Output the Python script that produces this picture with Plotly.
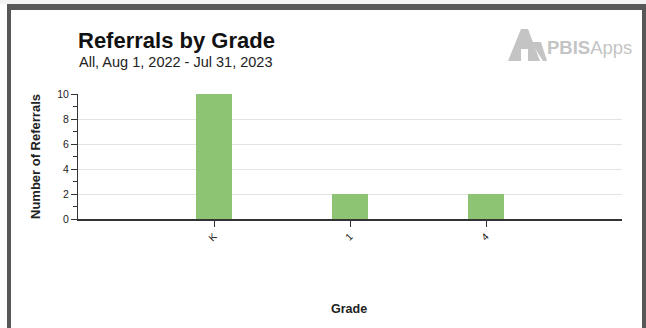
import plotly.graph_objects as go

grades = ["K", "1", "4"]
referrals = [10, 2, 2]
positions = [1, 2, 3]

W, H = 646, 328
L, R, T, B = 78, 622, 94, 219

def px(x):
    return (x - L) / (R - L)

def py(y):
    return (B - y) / (B - T)

fig = go.Figure()
fig.add_trace(go.Bar(x=positions, y=referrals, width=0.265,
                     marker=dict(color="#8cc474", line=dict(width=0)),
                     hoverinfo="y"))

font = "Liberation Sans, Arial, sans-serif"
shapes = []
# frame
shapes.append(dict(type="rect", xref="paper", yref="paper", x0=px(0), x1=px(646), y0=py(0), y1=py(4),
                   fillcolor="#f3f3f3", line=dict(width=0), layer="below"))
shapes.append(dict(type="rect", xref="paper", yref="paper", x0=px(7), x1=px(646), y0=py(4), y1=py(10),
                   fillcolor="#585858", line=dict(width=0)))
shapes.append(dict(type="rect", xref="paper", yref="paper", x0=px(7), x1=px(11), y0=py(4), y1=py(328),
                   fillcolor="#585858", line=dict(width=0)))
shapes.append(dict(type="rect", xref="paper", yref="paper", x0=px(642), x1=px(646), y0=py(4), y1=py(328),
                   fillcolor="#585858", line=dict(width=0)))
# logo: triangle figure
def path_px(pts):
    s = "M " + " L ".join(f"{px(a)},{py(b)}" for a, b in pts) + " Z"
    return s
logo_col = "#c4c4c4"
shapes.append(dict(type="path", xref="paper", yref="paper",
                   path=path_px([(521, 29), (528, 29), (540, 61), (528, 61), (528, 49), (521, 49), (521, 61), (508, 61)]),
                   fillcolor=logo_col, line=dict(width=0)))
shapes.append(dict(type="path", xref="paper", yref="paper",
                   path=path_px([(531, 42), (541, 42), (547, 61), (543, 61)]),
                   fillcolor=logo_col, line=dict(width=0)))

annotations = [
    dict(text="<b>Referrals by Grade</b>", x=px(76), y=py(55), xref="paper", yref="paper",
         xanchor="left", yanchor="bottom", showarrow=False, font=dict(family=font, size=22, color="#111111")),
    dict(text="All, Aug 1, 2022 - Jul 31, 2023", x=px(77), y=py(72), xref="paper", yref="paper",
         xanchor="left", yanchor="bottom", showarrow=False, font=dict(family=font, size=14.5, color="#222222")),
    dict(text="<b>PBIS</b>Apps", x=px(545), y=py(60), xref="paper", yref="paper",
         xanchor="left", yanchor="bottom", showarrow=False, font=dict(family=font, size=18.5, color=logo_col)),
    dict(text="<b>Grade</b>", x=px(349), y=py(309), xref="paper", yref="paper",
         xanchor="center", yanchor="middle", showarrow=False, font=dict(family=font, size=12.5, color="#222222")),
    dict(text="<b>Number of Referrals</b>", x=px(35), y=py(157), xref="paper", yref="paper", textangle=-90,
         xanchor="center", yanchor="middle", showarrow=False, font=dict(family=font, size=13, color="#222222")),
]

fig.update_layout(
    width=W, height=H,
    margin=dict(l=L, r=W - R, t=T, b=H - B, pad=0),
    paper_bgcolor="white", plot_bgcolor="white",
    showlegend=False,
    bargap=0,
    shapes=shapes,
    annotations=annotations,
    xaxis=dict(range=[0, 4], tickmode="array", tickvals=positions, ticktext=grades, automargin=False,
               tickangle=-45, ticks="outside", ticklen=6, tickcolor="#333333",
               showline=True, linecolor="#333333", linewidth=1.5, showgrid=False, zeroline=False,
               tickfont=dict(family=font, size=10, color="#222222")),
    yaxis=dict(range=[0, 10], tickmode="linear", tick0=0, dtick=2, ticks="outside", ticklen=6, automargin=False,
               tickcolor="#333333", showline=True, linecolor="#333333", linewidth=1,
               showgrid=True, gridcolor="#e3e3e3", gridwidth=1, zeroline=False,
               minor=dict(dtick=1, ticks="outside", ticklen=4, tickcolor="#333333", showgrid=False),
               tickfont=dict(family=font, size=10.5, color="#222222")),
)

fig.write_html("out.html")
